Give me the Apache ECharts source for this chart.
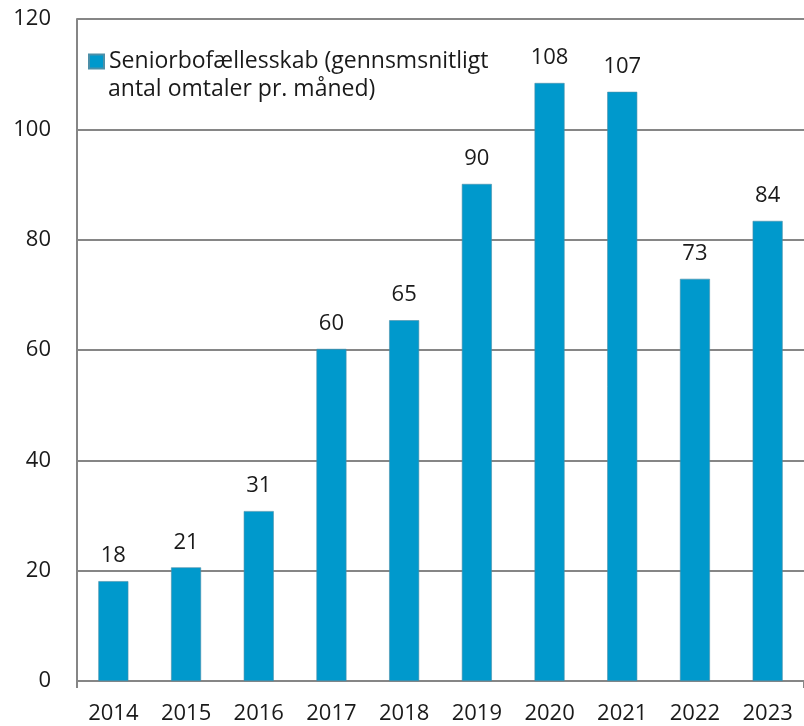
<!DOCTYPE html>
<html>
<head>
<meta charset="utf-8">
<script src="https://cdn.jsdelivr.net/npm/echarts@6/dist/echarts.min.js"></script>
<style>
html,body{margin:0;padding:0;background:#fff;}
#chart{width:804px;height:726px;}
</style>
</head>
<body>
<div id="chart"></div>
<script>
const categories = ['2014','2015','2016','2017','2018','2019','2020','2021','2022','2023'];
const values = [18.1, 20.6, 30.8, 60.2, 65.4, 90.1, 108.4, 106.8, 72.9, 83.4];
const labels = ['18','21','31','60','65','90','108','107','73','84'];
const legendLine1 = 'Seniorbofællesskab (gennsmsnitligt';
const legendLine2 = 'antal omtaler pr. måned)';
const seriesName = legendLine1 + ' ' + legendLine2;
const yMin = 0, yMax = 120, yStep = 20;

const font = '"Open Sans", "Liberation Sans", sans-serif';
const textColor = '#1a1a1a';
const chart = echarts.init(document.getElementById('chart'));
chart.setOption({
  animation: false,
  backgroundColor: '#ffffff',
  grid: { left: 77, top: 19, width: 732, height: 662, containLabel: false },
  legend: {
    left: 88, top: 50, padding: 0,
    itemWidth: 15, itemHeight: 14, itemGap: 0,
    icon: 'rect',
    data: [seriesName],
    formatter: () => legendLine1,
    textStyle: { fontFamily: font, fontSize: 23, color: textColor }
  },
  graphic: [{
    type: 'text', left: 108, top: 78,
    style: { text: legendLine2, font: '23px ' + font, fill: textColor }
  }],
  xAxis: {
    type: 'category',
    data: categories,
    axisLine: { show: true, lineStyle: { color: '#868686', width: 2 } },
    axisTick: { show: true, length: 7, interval: (i) => i === 0, lineStyle: { color: '#868686', width: 2 } },
    axisLabel: { fontFamily: font, fontSize: 22, color: textColor, margin: 22 },
    splitLine: { show: false }
  },
  yAxis: {
    type: 'value',
    min: yMin, max: yMax, interval: yStep,
    axisLine: { show: true, lineStyle: { color: '#868686', width: 2 } },
    axisTick: { show: false },
    axisLabel: { fontFamily: font, fontSize: 22, color: textColor, margin: 26 },
    splitLine: { show: true, lineStyle: { color: '#868686', width: 2 } }
  },
  series: [{
    name: seriesName,
    type: 'bar',
    data: values,
    barWidth: 30,
    itemStyle: { color: '#0099CC', borderColor: '#4C8FA8', borderWidth: 0.6 },
    label: {
      show: true, position: 'top', distance: 14,
      fontFamily: font, fontSize: 22, color: textColor,
      formatter: p => labels[p.dataIndex]
    }
  }]
});
</script>
</body>
</html>
